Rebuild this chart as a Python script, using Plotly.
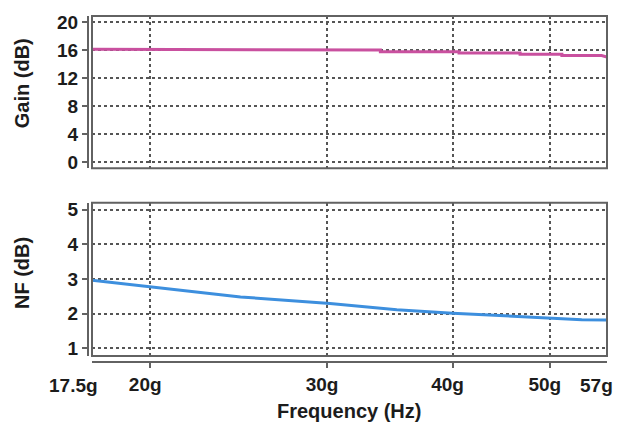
import math
import plotly.graph_objects as go

# ---- data ----
gain_freq = [17.5, 22.9, 22.9, 33.9, 33.9, 40.6, 40.6, 46.7, 46.7, 51.4, 51.4, 56.3, 57.0]
gain_db = [16.1, 16.1, 16.0, 16.0, 15.77, 15.77, 15.58, 15.58, 15.39, 15.39, 15.22, 15.22, 15.0]

nf_freq = [17.5, 20.0, 22.2, 24.6, 30.2, 35.2, 40.0, 43.3, 50.0, 53.8, 57.0]
nf_db = [2.96, 2.77, 2.63, 2.48, 2.29, 2.11, 2.01, 1.96, 1.87, 1.82, 1.81]

x_tick_vals = [20, 30, 40, 50]
x_tick_text = ["20g", "30g", "40g", "50g"]
x_edge_vals = [17.5, 57]
x_edge_text = ["17.5g", "57g"]
gain_ticks = [0, 4, 8, 12, 16, 20]
nf_ticks = [1, 2, 3, 4, 5]

W, H = 619, 428
ML, MR, MT, MB = 88, 12, 12, 66
PW = W - ML - MR
PH = H - MT - MB

def py(px):
    return (H - MB - px) / PH

def pxx(px):
    return (px - ML) / PW

FONT = "Liberation Sans, Arial, sans-serif"
TXT = "#1c1c1c"
LINE = "#626262"
GRID = "#555555"

xr = [math.log10(17.5), math.log10(57)]
xdom = [pxx(92), 1.0]

fig = go.Figure()
fig.add_trace(go.Scatter(x=gain_freq, y=gain_db, mode="lines",
                         line=dict(color="#C9509F", width=3), xaxis="x", yaxis="y",
                         showlegend=False))
fig.add_trace(go.Scatter(x=nf_freq, y=nf_db, mode="lines",
                         line=dict(color="#3D8FDE", width=3), xaxis="x2", yaxis="y2",
                         showlegend=False))

grid_common = dict(showgrid=True, gridcolor=GRID, gridwidth=2, griddash="dot", zeroline=False)
tickfont = dict(family=FONT, size=19, color=TXT, weight="bold")

fig.update_layout(
    width=W, height=H,
    margin=dict(l=ML, r=MR, t=MT, b=MB),
    paper_bgcolor="white", plot_bgcolor="white",
    xaxis=dict(domain=xdom, anchor="y", type="log", range=xr, tickvals=x_tick_vals,
               showticklabels=False, ticks="", showline=False, **grid_common),
    yaxis=dict(domain=[py(166), py(12)], anchor="free", position=0, range=[-0.85, 20.85],
               tickvals=gain_ticks, ticks="outside", ticklen=5, tickwidth=2, tickcolor=LINE,
               showline=True, linecolor=LINE, linewidth=2, tickfont=tickfont, **grid_common),
    xaxis2=dict(domain=xdom, anchor="free", position=0, type="log", range=xr,
                tickvals=x_tick_vals, ticktext=x_tick_text, ticks="outside", ticklen=5,
                tickwidth=2, tickcolor=LINE, showline=True, linecolor=LINE, linewidth=2,
                tickfont=tickfont, ticklabelshift=-5, **grid_common),
    yaxis2=dict(domain=[py(356), py(201)], anchor="free", position=0, range=[0.77, 5.2],
                tickvals=nf_ticks, ticks="outside", ticklen=5, tickwidth=2, tickcolor=LINE,
                showline=True, linecolor=LINE, linewidth=2, tickfont=tickfont, **grid_common),
)

for xref, yref in [("x domain", "y domain"), ("x2 domain", "y2 domain")]:
    fig.add_shape(type="rect", xref=xref, yref=yref, x0=0, x1=1, y0=0, y1=1,
                  line=dict(color=LINE, width=2), layer="above")

for v, t in zip(x_edge_vals, x_edge_text):
    fig.add_annotation(x=math.log10(v), xref="x2", y=py(386), yref="paper", text=t,
                       showarrow=False, xanchor="right", yanchor="middle", xshift=8,
                       font=tickfont)

title_font = dict(family=FONT, size=20, color=TXT, weight="bold")
fig.add_annotation(x=pxx(22), y=py(80), xref="paper", yref="paper", text="Gain (dB)",
                   textangle=-90, showarrow=False, xanchor="center", yanchor="middle",
                   font=title_font)
fig.add_annotation(x=pxx(22), y=py(272), xref="paper", yref="paper", text="NF (dB)",
                   textangle=-90, showarrow=False, xanchor="center", yanchor="middle",
                   font=title_font)
fig.add_annotation(x=pxx(349), y=py(412), xref="paper", yref="paper", text="Frequency (Hz)",
                   showarrow=False, xanchor="center", yanchor="middle", font=title_font)

fig.write_html("out.html")
